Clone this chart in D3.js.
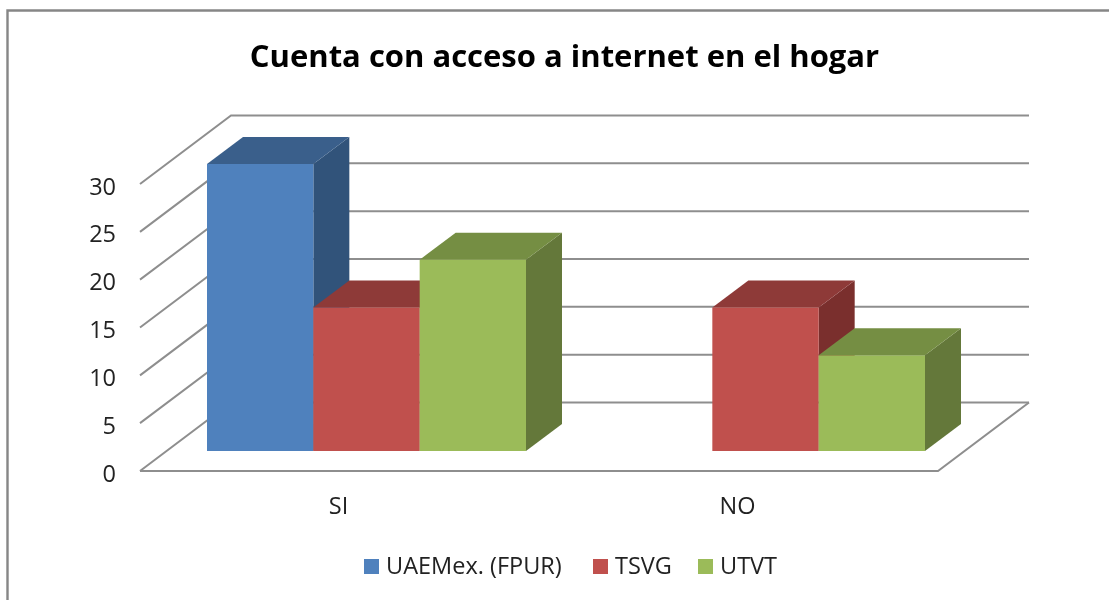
<!DOCTYPE html>
<html>
<meta charset="utf-8">
<style>
	body { margin: 0; background: #fff; }
	/* the original is a soft upscaled screenshot */
	svg { display: block; filter: blur(0.45px); }
	text { font-family: "Open Sans", sans-serif; fill: #222; }
	.axis path, .axis line { display: none; }
	.axis text { font-size: 23.5px; font-family: "Open Sans", sans-serif; fill: #222; }
	.wall { fill: none; stroke: #8e8e8e; stroke-width: 2px; }
</style>
<body>
<script src="https://d3js.org/d3.v7.min.js"></script>
<script>

var title = "Cuenta con acceso a internet en el hogar";
var categories = ["SI", "NO"];
var seriesNames = ["UAEMex. (FPUR)", "TSVG", "UTVT"];
var uaemex = [30, 0];
var tsvg = [15, 15];
var utvt = [20, 10];
var yTicks = [0, 5, 10, 15, 20, 25, 30];

var frontColors = ["#4f81bd", "#c0504d", "#9bbb59"];
var topColors = ["#3a5f8b", "#8e3a38", "#758e43"];
var sideColors = ["#31537a", "#7a2f2d", "#64783a"];

var width = 1109, height = 600;

// floor front edge runs 140..938, the back wall is shifted by depth
var depthX = 91, depthY = 68.5;
// bars sit part way into the floor and have their own thinner depth
var barInX = 27, barInY = 20;
var barDepthX = 36, barDepthY = 27;

var svg = d3.select("body").append("svg")
	.attr("width", width)
	.attr("height", height);

// chart frame runs off the right and bottom of the picture
svg.append("path")
	.attr("d", "M7.5," + (height + 5) + "V10.5H" + (width + 5))
	.attr("fill", "none")
	.attr("stroke", "#868686")
	.attr("stroke-width", 2.4);

var y = d3.scaleLinear().domain([0, 30]).range([471, 184]);
var x = d3.scaleBand().domain(categories).range([140, 938]);
var xSeries = d3.scaleBand().domain(seriesNames)
	.range([40, x.bandwidth() - 40]);

// walls: diagonal on the left, then straight along the back
svg.append("g").selectAll("path")
	.data(yTicks)
	.enter().append("path")
	.attr("class", "wall")
	.attr("d", function(v) {
		return "M140," + y(v) + "L" + (140 + depthX) + "," + (y(v) - depthY) + "H" + (938 + depthX);
	});

// floor
svg.append("path")
	.attr("class", "wall")
	.attr("d", "M140," + y(0) + "H938L" + (938 + depthX) + "," + (y(0) - depthY));

var bars = [];
[uaemex, tsvg, utvt].forEach(function(values, s) {
	categories.forEach(function(c, i) {
		bars.push({category: c, name: seriesNames[s], value: values[i], s: s});
	});
});

// no box for a zero value, same as the original
var bar = svg.append("g").selectAll("g")
	.data(bars.filter(function(d) { return d.value > 0; }))
	.enter().append("g");

function box(d) {
	var x0 = x(d.category) + xSeries(d.name) + barInX;
	return {
		x0: x0,
		x1: x0 + xSeries.bandwidth(),
		top: y(d.value) - barInY,
		bottom: y(0) - barInY
	};
}

bar.append("path")
	.attr("fill", function(d) { return sideColors[d.s]; })
	.attr("d", function(d) {
		var b = box(d);
		return "M" + b.x1 + "," + b.top + "l" + barDepthX + "," + (-barDepthY) +
			"V" + (b.bottom - barDepthY) + "L" + b.x1 + "," + b.bottom + "Z";
	});

bar.append("path")
	.attr("fill", function(d) { return topColors[d.s]; })
	.attr("d", function(d) {
		var b = box(d);
		return "M" + b.x0 + "," + b.top + "l" + barDepthX + "," + (-barDepthY) +
			"H" + (b.x1 + barDepthX) + "L" + b.x1 + "," + b.top + "Z";
	});

bar.append("rect")
	.attr("fill", function(d) { return frontColors[d.s]; })
	.attr("x", function(d) { return box(d).x0; })
	.attr("y", function(d) { return box(d).top; })
	.attr("width", xSeries.bandwidth())
	.attr("height", function(d) { return box(d).bottom - box(d).top; });

// axes
svg.append("g")
	.attr("class", "axis")
	.attr("transform", "translate(126,2.5)")
	.call(d3.axisLeft(y).tickValues(yTicks).tickSize(0).tickPadding(10));

svg.append("g")
	.attr("class", "axis")
	.attr("transform", "translate(-1,495)")
	.call(d3.axisBottom(x).tickSize(0).tickPadding(2));

svg.append("text")
	.attr("x", 564.5)
	.attr("y", 67)
	.attr("text-anchor", "middle")
	.attr("font-weight", "bold")
	.attr("font-size", 31)
	.style("fill", "#000")
	.text(title);

// legend
var legendX = [364, 593, 698];
var legend = svg.append("g").selectAll("g")
	.data(seriesNames)
	.enter().append("g")
	.attr("transform", function(d, i) { return "translate(" + legendX[i] + ",559)"; });

legend.append("rect")
	.attr("width", 15)
	.attr("height", 15)
	.attr("fill", function(d, i) { return frontColors[i]; });

legend.append("text")
	.attr("x", 22)
	.attr("y", 15)
	.attr("font-size", 23.5)
	.text(function(d) { return d; });

</script>
</body>
</html>
